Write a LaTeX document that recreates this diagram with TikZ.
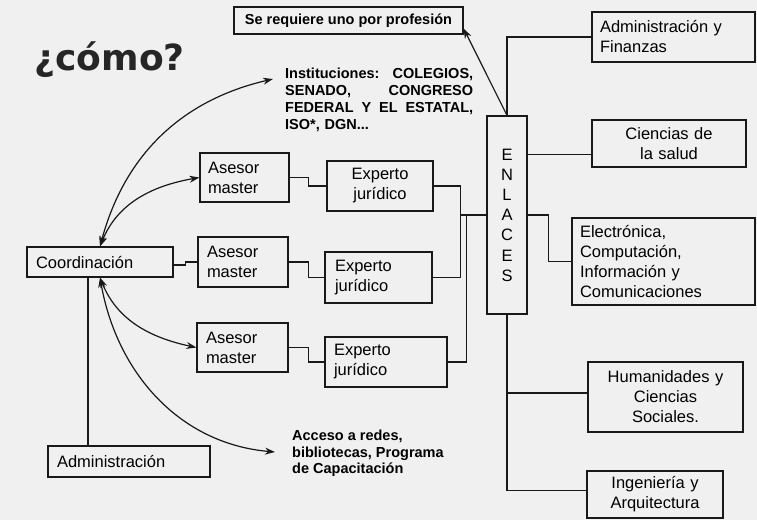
\documentclass[tikz,border=0pt]{standalone}
\usepackage{fontspec}
\setmainfont{Liberation Sans}
\newfontfamily\comofont{DejaVu Sans}
\usetikzlibrary{arrows.meta}

\begin{document}
\begin{tikzpicture}[x=1pt, y=1pt,
    line/.style={line width=1.2pt, draw=black!90},
    dbl/.style={line, {Stealth[length=10pt,width=7pt]}-{Stealth[length=10pt,width=7pt]}},
    box/.style={line, draw, inner sep=0pt,
      font=\fontsize{16.5}{20}\selectfont},
    note/.style={inner sep=0pt, align=left, anchor=north west,
      font=\fontsize{14.5}{16.8}\selectfont\bfseries}]
    \fill[black!6] (0,0) rectangle (757,-520);
    \useasboundingbox (0,0) rectangle (757,-520);

    \node[anchor=base west, text=black!85,
      font=\comofont\bfseries\fontsize{36}{36}\selectfont] (como) at (31,-70) {¿cómo?};

    \node[box, minimum width=229pt, minimum height=27pt,
      font=\fontsize{14.5}{17}\selectfont\bfseries] (seReq) at (348.5,-20.5) {Se requiere uno por profesión};
    \node[note, text width=188pt] (instit) at (285,-68)
      {Instituciones:\hfill COLEGIOS,\\ SENADO,\hfill CONGRESO\\ FEDERAL\hfill Y\hfill EL\hfill ESTATAL,\\ ISO*, DGN...};
    \node[note, font=\fontsize{14.5}{16.5}\selectfont\bfseries] (acceso) at (292,-430)
      {Acceso a redes,\\ bibliotecas, Programa\\ de Capacitación};

    \node[box, minimum width=146pt, minimum height=30pt, text width=128pt, align=left] (coord) at (100,-262) {Coordinación};
    \node[box, minimum width=162pt, minimum height=31pt, text width=144pt, align=left] (admin) at (129,-461.5) {Administración};

    \node[box, minimum width=89pt, minimum height=49pt, text width=73pt, align=left] (ase1) at (244.5,-177.5) {Asesor\\ master};
    \node[box, minimum width=90pt, minimum height=50pt, text width=72pt, align=left] (ase2) at (243,-262) {Asesor\\ master};
    \node[box, minimum width=91pt, minimum height=49pt, text width=73pt, align=left] (ase3) at (242.5,-347.5) {Asesor\\ master};

    \node[box, minimum width=106pt, minimum height=50pt, text width=90pt, align=center] (exp1) at (380,-186) {Experto\\ jurídico};
    \node[box, minimum width=107pt, minimum height=51pt, text width=87pt, align=left] (exp2) at (378.5,-277.5) {Experto\\ jurídico};
    \node[box, minimum width=122pt, minimum height=50pt, text width=104pt, align=left] (exp3) at (386,-362) {Experto\\ jurídico};

    \node[box, minimum width=40pt, minimum height=198pt, align=center,
      font=\fontsize{16.5}{20.2}\selectfont] (enl) at (507,-215) {E\\ N\\ L\\ A\\ C\\ E\\ S};

    \node[box, minimum width=163pt, minimum height=50pt, text width=147pt, align=left] (adminFin) at (673.5,-37) {Administración y\\ Finanzas};
    \node[box, minimum width=154pt, minimum height=47pt, text width=138pt, align=center] (cien) at (669,-143.5) {Ciencias de\\ la salud};
    \node[box, minimum width=183pt, minimum height=87pt, text width=167pt, align=left] (electr) at (663.5,-261.5) {Electrónica,\\ Computación,\\ Información y\\ Comunicaciones};
    \node[box, minimum width=155pt, minimum height=70pt, text width=140pt, align=center] (human) at (665.5,-397) {Humanidades y\\ Ciencias\\ Sociales.};
    \node[box, minimum width=136pt, minimum height=47pt, text width=120pt, align=center] (ingen) at (655,-494.5) {Ingeniería y\\ Arquitectura};

    \coordinate (instTip) at ([shift={(-12pt,-11pt)}]instit.north west);
    \coordinate (accTip) at ([shift={(-17pt,-22pt)}]acceso.north west);

    \draw[dbl] (instTip) to[out=193, in=75] (coord.north);
    \draw[dbl] (ase1.west) to[out=190, in=68] (coord.north);
    \draw[dbl] (ase3.west) to[out=168, in=-68] (coord.south);
    \draw[dbl] (accTip) to[out=175, in=-80] (coord.south);
    \draw[line] ([xshift=-41pt]admin.north) -- ([xshift=-12pt]coord.south);

    \draw[line] ([yshift=-3pt]coord.east) -- ++(12,0) |- (ase2.west);
    \draw[line] (ase1.east) -- ++(19,0) |- (exp1.west);
    \draw[line] (ase2.east) -- ++(20,0) |- (exp2.west);
    \draw[line] (ase3.east) -- ++(20,0) |- (exp3.west);

    \coordinate (j1) at ([xshift=-26pt]enl.west);
    \draw[line] (exp1.east) -| (j1) |- (exp2.east);
    \draw[line] (j1) -- (enl.west);
    \draw[line] (exp3.east) -| ([xshift=6pt]j1);

    \draw[line, -{Stealth[length=10pt,width=7pt]}] (enl.north) -- ([yshift=-8pt]seReq.east);
    \draw[line] (enl.north) |- (adminFin.west);
    \draw[line] ([yshift=-11pt]cien.west) -- ([yshift=-11pt]cien.west -| enl.east);
    \draw[line] (enl.east) -- ++(21,0) |- (electr.west);
    \draw[line] (enl.south) |- ([yshift=4pt]ingen.west);
    \draw[line] ([yshift=4pt]human.west) -- ([yshift=4pt]human.west -| enl.south);
  \end{tikzpicture}
\end{document}
